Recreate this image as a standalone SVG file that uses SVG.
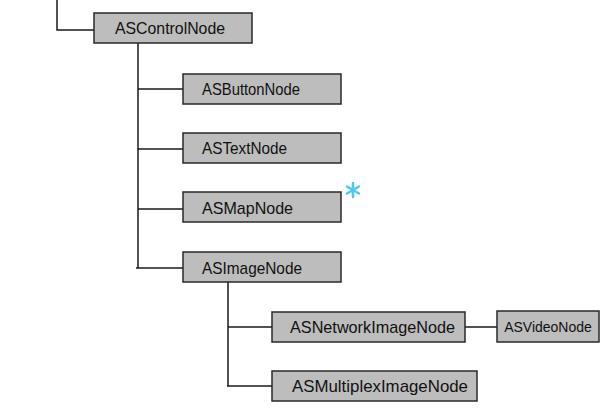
<svg xmlns="http://www.w3.org/2000/svg" width="610" height="420" viewBox="0 0 610 420">
<style>
.box{fill:#bdbdbd;stroke:#2a2a2a;stroke-width:1.5}
.lbl{font-family:"Liberation Sans",Arial,sans-serif;font-size:17px;fill:#111}
.conn{fill:none;stroke:#1a1a1a;stroke-width:1.5}
</style>
<rect width="610" height="420" fill="#ffffff"/>
<g id="connectors" class="conn">
<path d="M57,0 V30 H94"/>
<path d="M138,43 V268"/>
<path d="M138,89 H183"/>
<path d="M138,149 H183"/>
<path d="M138,209 H183"/>
<path d="M136,268 H183"/>
<path d="M228,282 V386"/>
<path d="M228,327 H272"/>
<path d="M227,386 H272"/>
<path d="M465,327 H497"/>
</g>
<g id="ASControlNode"><rect class="box" x="94" y="13" width="158" height="30"/><text class="lbl" x="115" y="34" textLength="110" lengthAdjust="spacingAndGlyphs">ASControlNode</text></g>
<g id="ASButtonNode"><rect class="box" x="183" y="74" width="158" height="30"/><text class="lbl" x="202" y="95" textLength="98" lengthAdjust="spacingAndGlyphs">ASButtonNode</text></g>
<g id="ASTextNode"><rect class="box" x="183" y="133" width="158" height="30"/><text class="lbl" x="202" y="154" textLength="85" lengthAdjust="spacingAndGlyphs">ASTextNode</text></g>
<g id="ASMapNode"><rect class="box" x="183" y="192" width="158" height="30"/><text class="lbl" x="202" y="214" textLength="91" lengthAdjust="spacingAndGlyphs">ASMapNode</text></g>
<g id="ASImageNode"><rect class="box" x="183" y="252" width="158" height="30"/><text class="lbl" x="202" y="274" textLength="100" lengthAdjust="spacingAndGlyphs">ASImageNode</text></g>
<g id="ASNetworkImageNode"><rect class="box" x="272" y="312" width="193" height="30"/><text class="lbl" x="290" y="333" textLength="165" lengthAdjust="spacingAndGlyphs">ASNetworkImageNode</text></g>
<g id="ASVideoNode"><rect class="box" x="497" y="311" width="102" height="31"/><text class="lbl" x="548" y="332" text-anchor="middle" style="font-size:14px">ASVideoNode</text></g>
<g id="ASMultiplexImageNode"><rect class="box" x="272" y="371" width="205" height="30"/><text class="lbl" x="292" y="392" textLength="176" lengthAdjust="spacingAndGlyphs">ASMultiplexImageNode</text></g>
<g id="star" stroke="#4cc8f0" stroke-width="2.5" stroke-linecap="round">
<path d="M353,183 V197 M347,186.5 L359,193.5 M347,193.5 L359,186.5"/>
</g>
</svg>
